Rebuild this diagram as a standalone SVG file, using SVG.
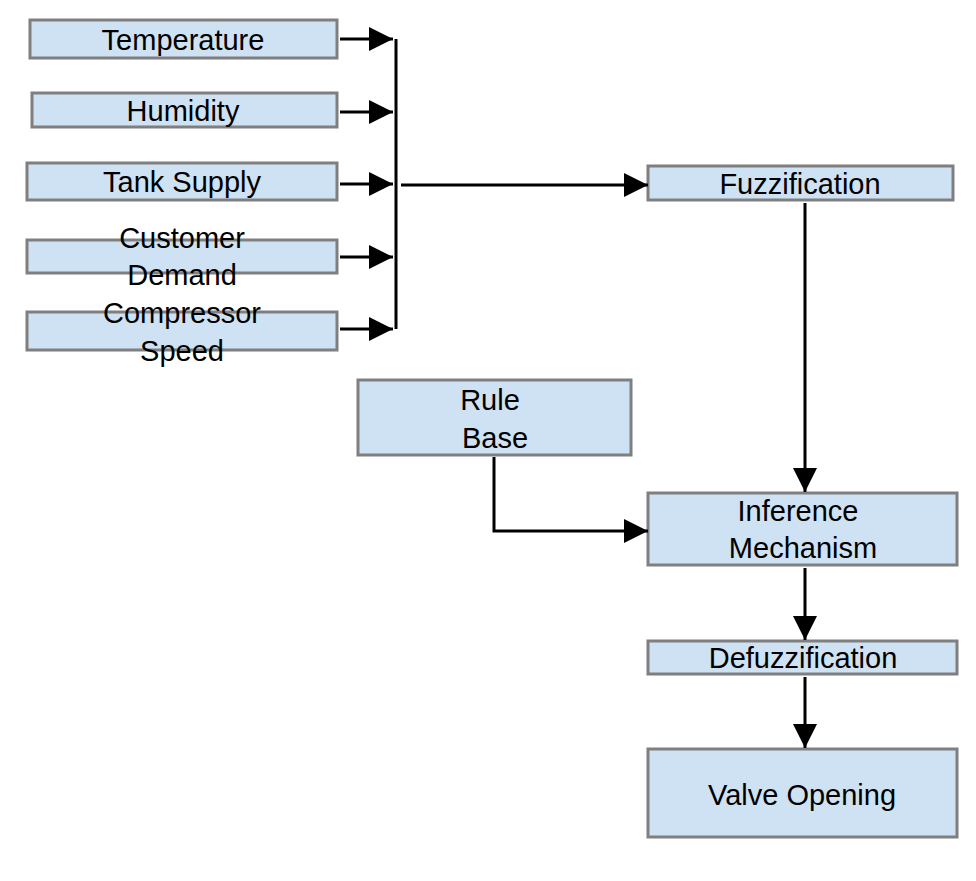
<svg xmlns="http://www.w3.org/2000/svg" width="976" height="881" viewBox="0 0 976 881">
<style>
.b{fill:#cfe2f3;stroke:#7f7f7f;stroke-width:3}
.t{font-family:"Liberation Sans",Arial,sans-serif;font-size:29px;fill:#000;text-anchor:middle}
.c{stroke:#000;stroke-width:3;fill:none}
</style>
<defs><marker id="a" markerWidth="8" markerHeight="10" refX="8" refY="5" orient="auto" markerUnits="userSpaceOnUse" viewBox="0 0 8 10"><path d="M0,0L8,5L0,10z"/></marker>
<marker id="m" markerWidth="24" markerHeight="24" refX="24" refY="12" orient="auto" markerUnits="userSpaceOnUse"><path d="M0,0L24,12L0,24z"/></marker></defs>
<rect width="976" height="881" fill="#fff"/>
<g id="temperature"><rect class="b" x="30" y="20" width="307" height="38"/><text class="t" x="183" y="50">Temperature</text></g>
<g id="humidity"><rect class="b" x="32" y="93" width="305" height="34"/><text class="t" x="183" y="121">Humidity</text></g>
<g id="tank"><rect class="b" x="27" y="163" width="310" height="37"/><text class="t" x="182" y="192">Tank Supply</text></g>
<g id="customer"><rect class="b" x="27" y="240" width="310" height="33"/><text class="t" x="182" y="248">Customer</text><text class="t" x="182" y="285">Demand</text></g>
<g id="compressor"><rect class="b" x="27" y="312" width="310" height="38"/><text class="t" x="182" y="323">Compressor</text><text class="t" x="182" y="361">Speed</text></g>
<g id="fuzz"><rect class="b" x="648" y="166" width="305" height="34"/><text class="t" x="800" y="194">Fuzzification</text></g>
<g id="rule"><rect class="b" x="358" y="380" width="273" height="75"/><text class="t" x="490" y="410">Rule</text><text class="t" x="495" y="448">Base</text></g>
<g id="inference"><rect class="b" x="648" y="493" width="309" height="72"/><text class="t" x="798" y="521">Inference</text><text class="t" x="803" y="558">Mechanism</text></g>
<g id="defuzz"><rect class="b" x="648" y="641" width="309" height="33"/><text class="t" x="803" y="668">Defuzzification</text></g>
<g id="valve"><rect class="b" x="648" y="749" width="309" height="88"/><text class="t" x="802" y="805">Valve Opening</text></g>
<g id="connectors">
<path class="c" d="M340,39H393" marker-end="url(#m)"/>
<path class="c" d="M340,112H393" marker-end="url(#m)"/>
<path class="c" d="M340,184H393" marker-end="url(#m)"/>
<path class="c" d="M340,257H393" marker-end="url(#m)"/>
<path class="c" d="M340,329H393" marker-end="url(#m)"/>
<path class="c" d="M396,39V329"/>
<path class="c" d="M401,185H648" marker-end="url(#m)"/>
<path class="c" d="M805,203V492" marker-end="url(#m)"/>
<path class="c" d="M494,457V531H648" marker-end="url(#m)"/>
<path class="c" d="M805,568V640" marker-end="url(#m)"/>
<path class="c" d="M805,677V748" marker-end="url(#m)"/>
</g>
</svg>
